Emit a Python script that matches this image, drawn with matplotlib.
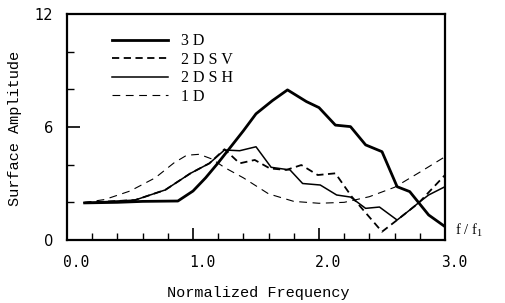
import matplotlib
matplotlib.use("Agg")
import matplotlib.pyplot as plt
import matplotlib.transforms as mtransforms
from matplotlib.ticker import MultipleLocator

# 3D (thick solid)
f_3d = [0.14, 0.4, 0.6, 0.88, 1.0, 1.1, 1.2, 1.3, 1.4, 1.5, 1.63, 1.75, 1.9, 2.0, 2.13, 2.25, 2.37, 2.5, 2.62, 2.72, 2.87, 3.0]
a_3d = [1.97, 2.0, 2.05, 2.07, 2.6, 3.3, 4.1, 4.95, 5.8, 6.7, 7.4, 7.97, 7.35, 7.03, 6.1, 6.02, 5.05, 4.69, 2.83, 2.57, 1.33, 0.71]

# 2D SV (dashed)
f_sv = [0.14, 0.54, 0.78, 0.98, 1.13, 1.25, 1.37, 1.49, 1.61, 1.74, 1.86, 1.99, 2.13, 2.26, 2.5, 2.62, 2.79, 3.0]
a_sv = [1.98, 2.12, 2.66, 3.54, 4.07, 4.82, 4.07, 4.25, 3.8, 3.72, 3.98, 3.45, 3.54, 2.3, 0.44, 1.06, 1.96, 3.45]

# 2D SH (thin solid)
f_sh = [0.14, 0.54, 0.78, 0.98, 1.13, 1.25, 1.37, 1.5, 1.62, 1.77, 1.87, 2.01, 2.14, 2.25, 2.37, 2.48, 2.62, 2.72, 2.8, 2.87, 3.0]
a_sh = [1.98, 2.12, 2.66, 3.54, 4.07, 4.78, 4.74, 4.95, 3.86, 3.72, 3.0, 2.92, 2.39, 2.28, 1.68, 1.75, 1.06, 1.59, 2.03, 2.39, 2.83]

# 1D (thin dashed)
f_1d = [0.13, 0.3, 0.5, 0.7, 0.85, 0.95, 1.05, 1.15, 1.25, 1.4, 1.6, 1.8, 2.0, 2.2, 2.4, 2.6, 2.8, 3.0]
a_1d = [1.98, 2.15, 2.6, 3.3, 4.1, 4.5, 4.55, 4.3, 3.85, 3.3, 2.45, 2.05, 1.95, 2.0, 2.3, 2.8, 3.6, 4.42]

xticks = [0.0, 1.0, 2.0, 3.0]
xticklabels = ["0.0", "1.0", "2.0", "3.0"]
yticks = [0, 6, 12]
yticklabels = ["0", "6", "12"]

fig = plt.figure(figsize=(5.06, 3.03), dpi=100)
ax = fig.add_axes([67/506, 1 - 240/303, 378/506, 226/303])

ax.plot(f_3d, a_3d, color="black", lw=2.0, label="3 D")
ax.plot(f_sv, a_sv, color="black", lw=1.3, dashes=(4, 2.5), label="2 D S V")
ax.plot(f_sh, a_sh, color="black", lw=1.1, label="2 D S H")
ax.plot(f_1d, a_1d, color="black", lw=0.8, dashes=(7, 5), label="1 D")

ax.set_xlim(0, 3.0)
ax.set_ylim(0, 12)
ax.set_xticks(xticks)
ax.set_xticklabels(xticklabels, fontfamily="DejaVu Sans Mono", fontsize=10.5)
ax.xaxis.set_minor_locator(MultipleLocator(0.2))
ax.set_yticks(yticks)
ax.set_yticklabels(yticklabels, fontfamily="DejaVu Sans", fontsize=10.5)
ax.yaxis.set_minor_locator(MultipleLocator(2))
ax.tick_params(which="major", direction="in", length=9, width=1.2, color="black")
ax.tick_params(which="minor", direction="in", length=5, width=1.0, color="black")
ax.tick_params(axis="x", pad=11)
ax.tick_params(axis="y", pad=10)
for lab in ax.get_xticklabels():
    lab.set_transform(lab.get_transform() + mtransforms.ScaledTranslation(9/100, 0, fig.dpi_scale_trans))
for sp in ax.spines.values():
    sp.set_linewidth(1.6)

leg = ax.legend(loc="upper left", bbox_to_anchor=(0.119, 0.915), frameon=False,
                prop={"family": "Liberation Serif", "size": 11.5},
                handlelength=3.5, handletextpad=0.8, labelspacing=0.16,
                borderpad=0, borderaxespad=0)

fig.text(15/506, 1 - 128/303, "Surface Amplitude", rotation=90, ha="center", va="center",
         fontfamily="Liberation Mono", fontsize=11)
fig.text(258/506, 1 - 293/303, "Normalized Frequency", ha="center", va="center",
         fontfamily="Liberation Mono", fontsize=11)
fig.text(455/506, 1 - 230/303, "f / f$_\\mathregular{1}$", ha="left", va="center",
         fontfamily="Liberation Serif", fontsize=10.5)

fig.savefig("out.png", dpi=100)
